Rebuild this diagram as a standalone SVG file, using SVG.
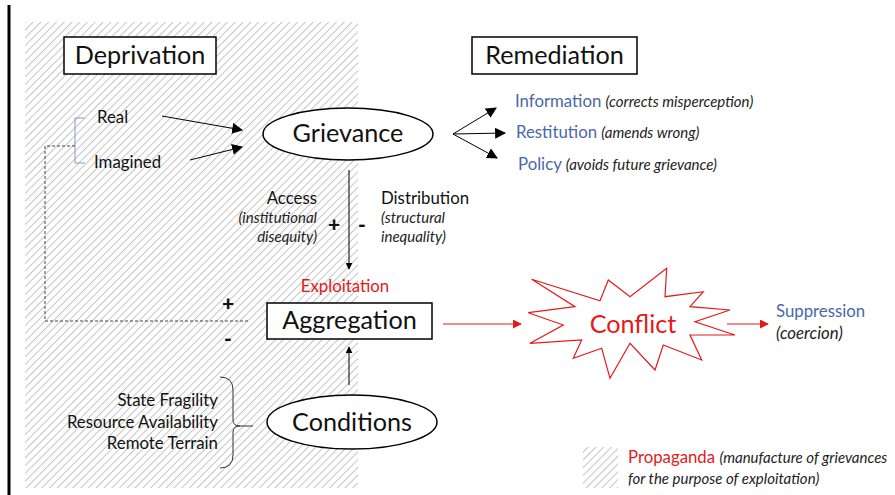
<svg xmlns="http://www.w3.org/2000/svg" width="895" height="495" viewBox="0 0 895 495">
  <defs>
    <pattern id="hatch" width="5.5" height="5.5" patternUnits="userSpaceOnUse" patternTransform="rotate(45)">
      <rect width="5.5" height="5.5" fill="#ffffff"/>
      <line x1="0" y1="0" x2="0" y2="5.5" stroke="#c4c4c4" stroke-width="2"/>
    </pattern>
    <marker id="ah" viewBox="0 0 10 10" refX="9" refY="5" markerWidth="7" markerHeight="7" orient="auto" markerUnits="userSpaceOnUse">
      <path d="M0,0 L10,5 L0,10 z" fill="#000"/>
    </marker>
    <marker id="ah-lg" viewBox="0 0 10 10" refX="9" refY="5" markerWidth="11" markerHeight="11" orient="auto" markerUnits="userSpaceOnUse">
      <path d="M0,0 L10,5 L0,10 z" fill="#000"/>
    </marker>
    <marker id="ah-red" viewBox="0 0 10 10" refX="9" refY="5" markerWidth="9" markerHeight="9" orient="auto" markerUnits="userSpaceOnUse">
      <path d="M0,0 L10,5 L0,10 z" fill="#e31a1a"/>
    </marker>
  </defs>
  <style>
    text { font-family: Lato, "Open Sans", "Liberation Sans", sans-serif; fill: #111; }
    .big { font-size: 25.2px; }
    .mid { font-size: 16.8px; }
    .sm { font-size: 15px; }
    .it { font-style: italic; fill: #222; }
    .blue { fill: #4a69a8; }
    .red { fill: #e31a1a; }
    .sign { font-size: 21px; font-weight: 900; }
    .box { fill: #fff; stroke: #000; stroke-width: 1.5; }
    .oval { fill: #fff; stroke: #000; stroke-width: 1.5; }
    .edge { stroke: #000; stroke-width: 1; fill: none; }
    .redge { stroke: #e31a1a; stroke-width: 1.2; fill: none; }
  </style>

  <rect width="895" height="495" fill="#fff"/>

  <!-- shaded propaganda zone -->
  <rect x="25" y="22" width="333" height="466" fill="url(#hatch)"/>

  <!-- left margin rule -->
  <line x1="9" y1="5" x2="9" y2="495" stroke="#000" stroke-width="3"/>

  <!-- connectors -->
  <g id="connectors">
    <!-- real / imagined bracket -->
    <polyline points="85,118 75,118 75,163 85,163" stroke="#7f9cc4" stroke-width="1" fill="none"/>
    <!-- feedback loop -->
    <polyline points="75,146 45,146 45,321 248,321" stroke="#444" stroke-width="1" stroke-dasharray="3,2" fill="none"/>
    <line class="edge" x1="162" y1="116" x2="242" y2="130" marker-end="url(#ah-lg)"/>
    <line class="edge" x1="190" y1="160" x2="242" y2="147" marker-end="url(#ah-lg)"/>
    <!-- remediation fan -->
    <line class="edge" x1="453" y1="134" x2="496" y2="108" marker-end="url(#ah-lg)"/>
    <line class="edge" x1="453" y1="134" x2="505" y2="133" marker-end="url(#ah-lg)"/>
    <line class="edge" x1="453" y1="134" x2="497" y2="158" marker-end="url(#ah-lg)"/>
    <!-- grievance to aggregation -->
    <line class="edge" x1="349" y1="170" x2="349" y2="269" marker-end="url(#ah)"/>
    <!-- conditions to aggregation -->
    <line class="edge" x1="349" y1="385" x2="349" y2="347" marker-end="url(#ah)"/>
    <!-- conditions brace -->
    <path d="M220,377 Q233,377 233,390 L233,420 Q233,426 240,426 Q233,426 233,432 L233,455 Q233,468 220,468" stroke="#333" stroke-width="1" fill="none"/>
    <line x1="240" y1="426" x2="253" y2="426" stroke="#333" stroke-width="1"/>
    <!-- aggregation to conflict to suppression -->
    <line class="redge" x1="443" y1="324" x2="521" y2="324" marker-end="url(#ah-red)"/>
    <line class="redge" x1="727" y1="324" x2="768" y2="324" marker-end="url(#ah-red)"/>
  </g>

  <g id="deprivation">
    <rect class="box" x="64" y="37" width="152" height="37"/>
    <text class="big" x="140" y="64" text-anchor="middle">Deprivation</text>
  </g>

  <g id="remediation">
    <rect class="box" x="472" y="37" width="165" height="37"/>
    <text class="big" x="554.5" y="64" text-anchor="middle">Remediation</text>
  </g>

  <g id="real"><text class="mid" x="97" y="123">Real</text></g>
  <g id="imagined"><text class="mid" x="94" y="168">Imagined</text></g>

  <g id="grievance">
    <ellipse class="oval" cx="348" cy="134" rx="85" ry="26"/>
    <text class="big" x="348" y="142" text-anchor="middle">Grievance</text>
  </g>

  <g id="information"><text class="mid" x="515" y="107"><tspan class="blue">Information</tspan> <tspan class="it sm">(corrects misperception)</tspan></text></g>
  <g id="restitution"><text class="mid" x="516" y="138"><tspan class="blue">Restitution</tspan> <tspan class="it sm">(amends wrong)</tspan></text></g>
  <g id="policy"><text class="mid" x="518" y="170"><tspan class="blue">Policy</tspan> <tspan class="it sm">(avoids future grievance)</tspan></text></g>

  <g id="access">
    <text class="mid" x="317" y="204" text-anchor="end">Access</text>
    <text class="sm it" x="317" y="223" text-anchor="end">(institutional</text>
    <text class="sm it" x="317" y="242" text-anchor="end">disequity)</text>
    <text class="sign" x="334" y="232" text-anchor="middle">+</text>
  </g>
  <g id="distribution">
    <text class="mid" x="381" y="204">Distribution</text>
    <text class="sm it" x="381" y="223">(structural</text>
    <text class="sm it" x="381" y="242">inequality)</text>
    <text class="sign" x="362" y="232" text-anchor="middle">-</text>
  </g>

  <g id="exploitation"><text class="mid red" x="345" y="292" text-anchor="middle">Exploitation</text></g>

  <g id="loop-signs">
    <text class="sign" x="228" y="311" text-anchor="middle">+</text>
    <text class="sign" x="228" y="346" text-anchor="middle">-</text>
  </g>

  <g id="aggregation">
    <rect class="box" x="267" y="303" width="165" height="36"/>
    <text class="big" x="349.5" y="329" text-anchor="middle">Aggregation</text>
  </g>

  <g id="conflict">
    <polygon points="531.7,279.3 600,300.7 608.3,280 630,296.7 666.7,268.3 665,296.7 703.3,291.7 690,306.7 730,310 695,321.7 735,335 690,335 701.7,360 663.3,345 655,370 630,343.3 610,378.3 601.7,348.3 573.3,358.3 581.7,340 530,343.3 563.3,325 528.3,312.7 575,306.7" fill="#fff" stroke="#e31a1a" stroke-width="1.2" stroke-linejoin="miter"/>
    <text class="big red" x="633" y="333" text-anchor="middle">Conflict</text>
  </g>

  <g id="suppression">
    <text class="mid blue" x="776" y="317">Suppression</text>
    <text class="mid it" x="776" y="339">(coercion)</text>
  </g>

  <g id="conditions">
    <ellipse class="oval" cx="352" cy="422" rx="85" ry="27"/>
    <text class="big" x="352" y="431" text-anchor="middle">Conditions</text>
  </g>

  <g id="condition-factors">
    <text class="mid" x="218" y="406" text-anchor="end">State Fragility</text>
    <text class="mid" x="218" y="428" text-anchor="end">Resource Availability</text>
    <text class="mid" x="218" y="449" text-anchor="end">Remote Terrain</text>
  </g>

  <g id="legend">
    <rect x="583" y="447" width="35" height="41" fill="url(#hatch)"/>
    <text class="mid" x="628" y="463"><tspan class="red">Propaganda</tspan> <tspan class="it sm">(manufacture of grievances</tspan></text>
    <text class="sm it" x="628" y="484">for the purpose of exploitation)</text>
  </g>
</svg>
